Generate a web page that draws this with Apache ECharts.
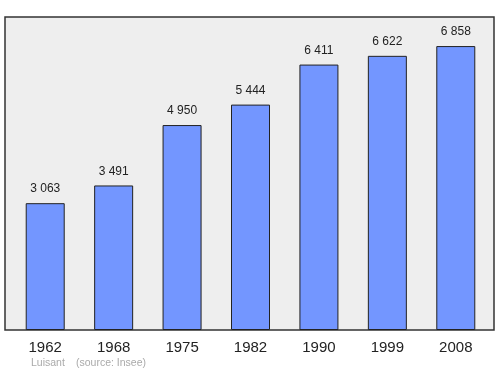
<!DOCTYPE html>
<html>
<head>
<meta charset="utf-8">
<script src="https://cdn.jsdelivr.net/npm/echarts@6/dist/echarts.min.js"></script>
<style>
  html, body { margin: 0; padding: 0; background: #fff; }
  #chart { width: 500px; height: 374px; }
</style>
</head>
<body>
<div id="chart"></div>
<script>
var years = ['1962', '1968', '1975', '1982', '1990', '1999', '2008'];
var population = [3063, 3491, 4950, 5444, 6411, 6622, 6858];

var chart = echarts.init(document.getElementById('chart'));

function fmt(v) {
    return String(v).replace(/\B(?=(\d{3})+(?!\d))/g, ' ');
}

var font = 'Liberation Sans, Arial, sans-serif';

var option = {
    animation: false,
    textStyle: { fontFamily: font },
    grid: [
        // background frame
        {
            left: 5, right: 6, top: 17, bottom: 44,
            show: true,
            backgroundColor: '#eeeeee',
            borderColor: '#333',
            borderWidth: 1.5,
            z: 0,
        },
        // bars
        {
            left: 11, right: 10, top: 17, bottom: 44,
        },
    ],
    xAxis: [
        { gridIndex: 0, type: 'value', show: false, min: 0, max: 1 },
        {
            gridIndex: 1,
            type: 'category',
            data: years,
            axisLine: { show: false },
            axisTick: { show: false },
            axisLabel: { fontSize: 15, color: '#222', margin: 10 },
        },
    ],
    yAxis: [
        { gridIndex: 0, type: 'value', show: false, min: 0, max: 1 },
        {
            gridIndex: 1,
            type: 'value',
            min: 0,
            max: 7560,
            show: false,
        },
    ],
    series: [
        {
            type: 'bar',
            xAxisIndex: 1,
            yAxisIndex: 1,
            data: population,
            barWidth: 39,
            itemStyle: { color: '#7396ff', borderColor: '#222', borderWidth: 1 },
            label: {
                show: true,
                position: 'top',
                distance: 8,
                fontSize: 12,
                color: '#222',
                formatter: function (p) { return fmt(p.value); },
            },
        },
    ],
    graphic: [
        {
            type: 'text',
            left: 31,
            top: 358,
            style: { text: 'Luisant', fontSize: 10.5, fill: '#aaaaaa', fontFamily: font },
        },
        {
            type: 'text',
            left: 76,
            top: 358,
            style: { text: '(source: Insee)', fontSize: 10.5, fill: '#aaaaaa', fontFamily: font },
        },
    ],
};

chart.setOption(option);
</script>
</body>
</html>
